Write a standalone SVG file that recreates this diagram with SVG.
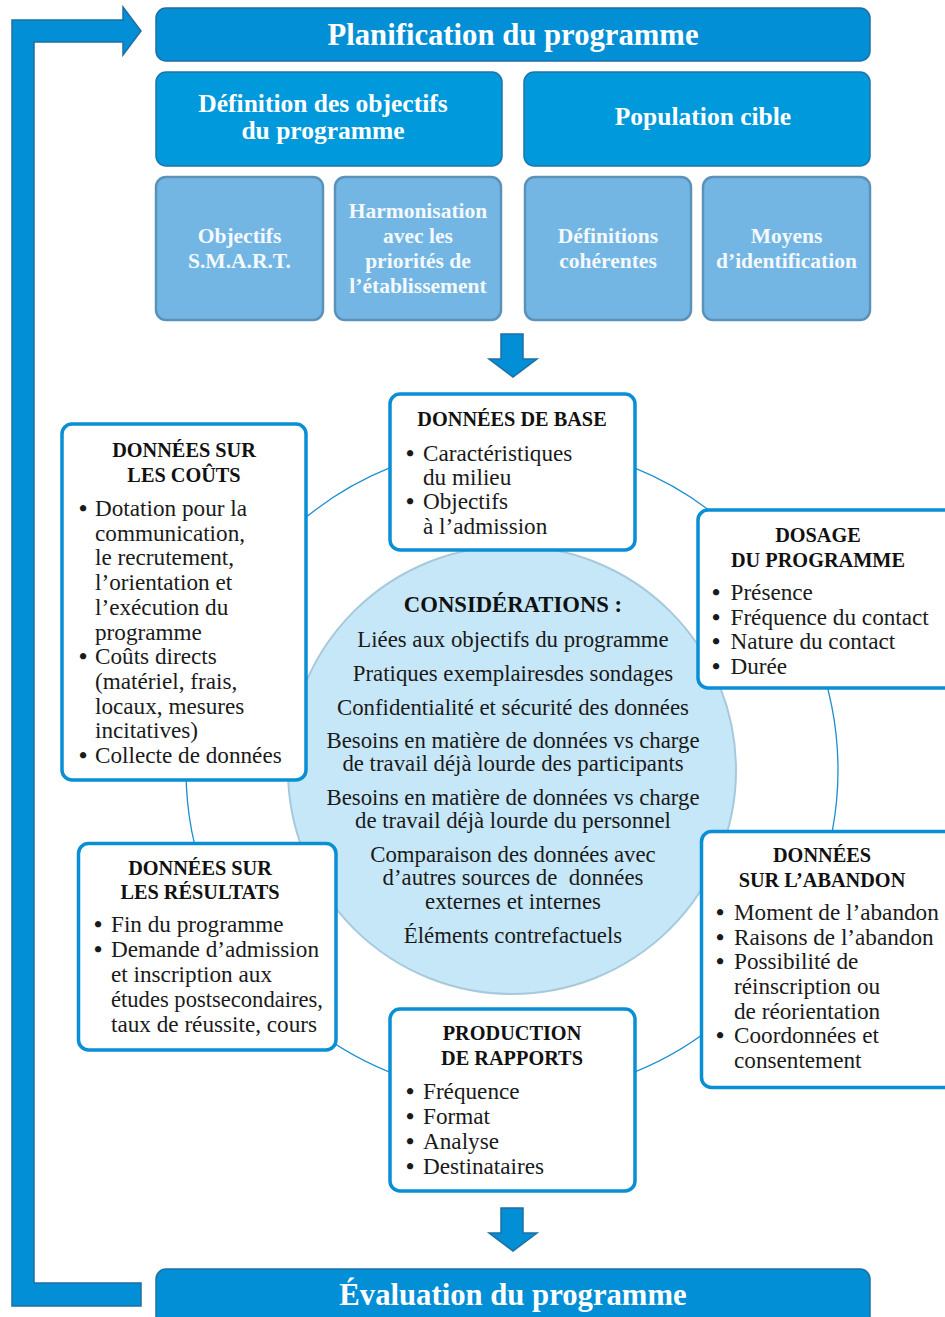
<svg xmlns="http://www.w3.org/2000/svg" width="945" height="1317" viewBox="0 0 945 1317">
<style>
.bar{fill:#038fd5;stroke:#1d6fa4;stroke-width:1.5}
.sub{fill:#0099dc;stroke:#1f74a8;stroke-width:1.5}
.lite{fill:#73b6e4;stroke:#5b92b9;stroke-width:2.5}
.box{fill:#ffffff;stroke:#0a8fd5;stroke-width:3.5}
.arrow{fill:#038fd5;stroke:#1d6fa4;stroke-width:1.5}
.ring{fill:none;stroke:#1b8fd2;stroke-width:1.3}
.circ{fill:#c6e7f8;stroke:#a7c9dc;stroke-width:2}
text{font-family:"Liberation Serif","Times New Roman",serif}
.t1{font-size:30.7px;font-weight:bold;fill:#ffffff;text-anchor:middle}
.t2{font-size:25.5px;font-weight:bold;fill:#ffffff;text-anchor:middle}
.t3{font-size:21.5px;font-weight:bold;fill:#f4f9fd;text-anchor:middle}
.h{font-size:20.3px;font-weight:bold;fill:#111111;text-anchor:middle}
.hc{font-size:22.7px;font-weight:bold;fill:#111111;text-anchor:middle}
.b{font-size:23.2px;fill:#1a1a1a}
.c{font-size:22.8px;fill:#1a1a1a;text-anchor:middle}
.dot{font-size:23.2px;font-weight:bold;fill:#1a1a1a;text-anchor:middle}
</style>

<g id="connectors">
  <circle class="ring" cx="512" cy="770" r="326"/>
  <polygon class="arrow" points="12,1306 141,1306 141,1283 34,1283 34,42 123,42 123,55 141,31 123,7 123,20 12,20"/>
  <polygon class="arrow" points="501,334 523,334 523,359 537,359 513,377 489,359 501,359"/>
  <polygon class="arrow" points="501,1208 523,1208 523,1233 537,1233 513,1251 489,1233 501,1233"/>
</g>

<g id="planification">
  <rect class="bar" x="156" y="8" width="714" height="53" rx="10"/>
  <text class="t1" x="513" y="45">Planification du programme</text>
</g>

<g id="definition-objectifs">
  <rect class="sub" x="156" y="72" width="346" height="94" rx="10"/>
  <text class="t2" x="323" y="112">Définition des objectifs</text>
  <text class="t2" x="323" y="138.5">du programme</text>
</g>

<g id="population-cible">
  <rect class="sub" x="524" y="72" width="346" height="94" rx="10"/>
  <text class="t2" x="703" y="125">Population cible</text>
</g>

<g id="objectifs-smart">
  <rect class="lite" x="156" y="177" width="167" height="143" rx="10"/>
  <text class="t3" x="239.5" y="243.3">Objectifs</text>
  <text class="t3" x="239.5" y="268.3">S.M.A.R.T.</text>
</g>

<g id="harmonisation">
  <rect class="lite" x="335" y="177" width="166" height="143" rx="10"/>
  <text class="t3" x="418" y="218.3">Harmonisation</text>
  <text class="t3" x="418" y="243.3">avec les</text>
  <text class="t3" x="418" y="268.3">priorités de</text>
  <text class="t3" x="418" y="293.3">l’établissement</text>
</g>

<g id="definitions-coherentes">
  <rect class="lite" x="525" y="177" width="166" height="143" rx="10"/>
  <text class="t3" x="608" y="243.3">Définitions</text>
  <text class="t3" x="608" y="268.3">cohérentes</text>
</g>

<g id="moyens-identification">
  <rect class="lite" x="703" y="177" width="167" height="143" rx="10"/>
  <text class="t3" x="786.5" y="243.3">Moyens</text>
  <text class="t3" x="786.5" y="268.3">d’identification</text>
</g>

<g id="considerations">
  <circle class="circ" cx="512" cy="770" r="224"/>
  <text class="hc" x="513" y="612">CONSIDÉRATIONS :</text>
  <text class="c" x="513" y="647">Liées aux objectifs du programme</text>
  <text class="c" x="513" y="681">Pratiques exemplairesdes sondages</text>
  <text class="c" x="513" y="715">Confidentialité et sécurité des données</text>
  <text class="c" x="513" y="748">Besoins en matière de données vs charge</text>
  <text class="c" x="513" y="771">de travail déjà lourde des participants</text>
  <text class="c" x="513" y="804.5">Besoins en matière de données vs charge</text>
  <text class="c" x="513" y="827.5">de travail déjà lourde du personnel</text>
  <text class="c" x="513" y="861.5">Comparaison des données avec</text>
  <text class="c" x="513" y="885" style="white-space:pre">d’autres sources de  données</text>
  <text class="c" x="513" y="908.5">externes et internes</text>
  <text class="c" x="513" y="943">Éléments contrefactuels</text>
</g>

<g id="donnees-base">
  <rect class="box" x="390" y="394" width="245" height="156" rx="10"/>
  <text class="h" x="512" y="426">DONNÉES DE BASE</text>
  <text class="dot" x="410" y="460.7">•</text>
  <text class="b" x="423" y="460.7">Caractéristiques</text>
  <text class="b" x="423" y="484.5">du milieu</text>
  <text class="dot" x="410" y="509.3">•</text>
  <text class="b" x="423" y="509.3">Objectifs</text>
  <text class="b" x="423" y="534">à l’admission</text>
</g>

<g id="donnees-couts">
  <rect class="box" x="62" y="424" width="244" height="356" rx="10"/>
  <text class="h" x="184" y="456.7">DONNÉES SUR</text>
  <text class="h" x="184" y="481.7">LES COÛTS</text>
  <text class="dot" x="83" y="516">•</text>
  <text class="b" x="95" y="516">Dotation pour la</text>
  <text class="b" x="95" y="540.7">communication,</text>
  <text class="b" x="95" y="565.4">le recrutement,</text>
  <text class="b" x="95" y="590.1">l’orientation et</text>
  <text class="b" x="95" y="614.8">l’exécution du</text>
  <text class="b" x="95" y="639.5">programme</text>
  <text class="dot" x="83" y="664.2">•</text>
  <text class="b" x="95" y="664.2">Coûts directs</text>
  <text class="b" x="95" y="688.9">(matériel, frais,</text>
  <text class="b" x="95" y="713.6">locaux, mesures</text>
  <text class="b" x="95" y="738.3">incitatives)</text>
  <text class="dot" x="83" y="763">•</text>
  <text class="b" x="95" y="763">Collecte de données</text>
</g>

<g id="dosage-programme">
  <rect class="box" x="698" y="510" width="270" height="178" rx="10"/>
  <text class="h" x="818" y="541.7">DOSAGE</text>
  <text class="h" x="818" y="566.7">DU PROGRAMME</text>
  <text class="dot" x="716" y="600">•</text>
  <text class="b" x="730.5" y="600">Présence</text>
  <text class="dot" x="716" y="624.5">•</text>
  <text class="b" x="730.5" y="624.5">Fréquence du contact</text>
  <text class="dot" x="716" y="649.3">•</text>
  <text class="b" x="730.5" y="649.3">Nature du contact</text>
  <text class="dot" x="716" y="674.3">•</text>
  <text class="b" x="730.5" y="674.3">Durée</text>
</g>

<g id="donnees-abandon">
  <rect class="box" x="701.5" y="831.5" width="270" height="256" rx="10"/>
  <text class="h" x="822" y="861.7">DONNÉES</text>
  <text class="h" x="822" y="886.7">SUR L’ABANDON</text>
  <text class="dot" x="720" y="920">•</text>
  <text class="b" x="734" y="920">Moment de l’abandon</text>
  <text class="dot" x="720" y="944.5">•</text>
  <text class="b" x="734" y="944.5">Raisons de l’abandon</text>
  <text class="dot" x="720" y="969.3">•</text>
  <text class="b" x="734" y="969.3">Possibilité de</text>
  <text class="b" x="734" y="994">réinscription ou</text>
  <text class="b" x="734" y="1018.5">de réorientation</text>
  <text class="dot" x="720" y="1043.3">•</text>
  <text class="b" x="734" y="1043.3">Coordonnées et</text>
  <text class="b" x="734" y="1067.7">consentement</text>
</g>

<g id="donnees-resultats">
  <rect class="box" x="78.5" y="843.5" width="257.5" height="206.5" rx="10"/>
  <text class="h" x="200" y="875">DONNÉES SUR</text>
  <text class="h" x="200" y="899.3">LES RÉSULTATS</text>
  <text class="dot" x="98" y="931.7">•</text>
  <text class="b" x="111" y="931.7">Fin du programme</text>
  <text class="dot" x="98" y="956.7">•</text>
  <text class="b" x="111" y="956.7">Demande d’admission</text>
  <text class="b" x="111" y="981.7">et inscription aux</text>
  <text class="b" x="111" y="1006.7" textLength="212" lengthAdjust="spacingAndGlyphs">études postsecondaires,</text>
  <text class="b" x="111" y="1031.7">taux de réussite, cours</text>
</g>

<g id="production-rapports">
  <rect class="box" x="390" y="1009" width="245" height="182" rx="10"/>
  <text class="h" x="512" y="1040">PRODUCTION</text>
  <text class="h" x="512" y="1065">DE RAPPORTS</text>
  <text class="dot" x="410" y="1099">•</text>
  <text class="b" x="423" y="1099">Fréquence</text>
  <text class="dot" x="410" y="1124">•</text>
  <text class="b" x="423" y="1124">Format</text>
  <text class="dot" x="410" y="1149">•</text>
  <text class="b" x="423" y="1149">Analyse</text>
  <text class="dot" x="410" y="1174">•</text>
  <text class="b" x="423" y="1174">Destinataires</text>
</g>

<g id="evaluation">
  <rect class="bar" x="156" y="1269" width="714" height="60" rx="10"/>
  <text class="t1" x="513" y="1305">Évaluation du programme</text>
</g>
</svg>
